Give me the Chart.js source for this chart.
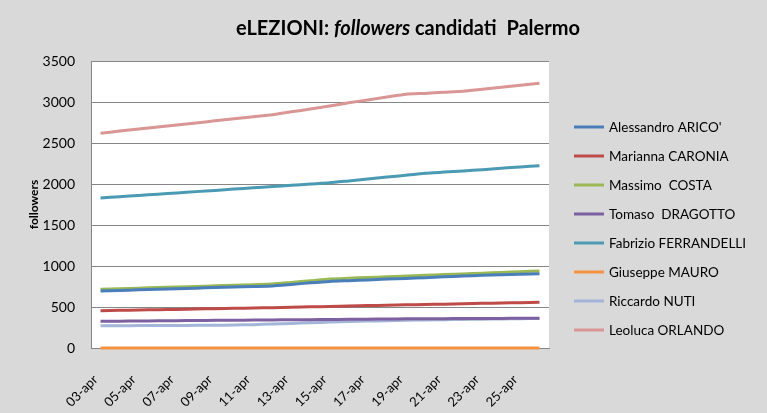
<!DOCTYPE html>
<html>
<head>
<meta charset="utf-8">
<script src="https://cdn.jsdelivr.net/npm/chart.js@4/dist/chart.umd.min.js"></script>
<style>
  html, body { margin: 0; padding: 0; background: #d9d9d9; }
  #wrap { position: relative; width: 767px; height: 413px; }
  #title {
    position: absolute; top: 15px; left: 408px; transform: translateX(-50%);
    font: bold 20px Lato, sans-serif; color: #000; white-space: nowrap;
  }
</style>
</head>
<body>
<div id="wrap">
  <canvas id="myChart" width="767" height="413"></canvas>
  <div id="title">eLEZIONI: <i>followers</i> candidati&nbsp; Palermo</div>
</div>
<script>
"use strict";
const days = [
  "03-apr", "04-apr", "05-apr", "06-apr", "07-apr", "08-apr", "09-apr", "10-apr",
  "11-apr", "12-apr", "13-apr", "14-apr", "15-apr", "16-apr", "17-apr", "18-apr",
  "19-apr", "20-apr", "21-apr", "22-apr", "23-apr", "24-apr", "25-apr", "26-apr",
];
const yTicks = [0, 500, 1000, 1500, 2000, 2500, 3000, 3500];

const arico = [695, 702, 709, 716, 723, 730, 737, 744, 750, 756, 775, 795, 812, 821, 830, 840, 849, 858, 868, 877, 886, 893, 900, 906];
const caronia = [455, 459, 463, 467, 471, 476, 480, 484, 488, 492, 497, 502, 507, 512, 517, 522, 526, 530, 535, 540, 545, 549, 553, 557];
const costa = [716, 723, 730, 737, 744, 751, 758, 765, 772, 780, 800, 820, 842, 851, 860, 868, 877, 886, 895, 903, 912, 921, 930, 939];
const dragotto = [325, 327, 329, 331, 333, 335, 337, 339, 340, 342, 344, 346, 348, 350, 352, 354, 356, 357, 358, 359, 360, 361, 362, 363];
const ferrandelli = [1830, 1845, 1860, 1876, 1891, 1907, 1922, 1938, 1953, 1969, 1984, 2000, 2015, 2038, 2061, 2084, 2107, 2130, 2145, 2160, 2175, 2192, 2208, 2223];
const mauro = [0, 0, 0, 0, 0, 0, 0, 0, 0, 0, 0, 0, 0, 0, 0, 0, 0, 0, 0, 0, 0, 0, 0, 0];
const nuti = [272, 272, 273, 274, 275, 276, 278, 280, 285, 292, 300, 308, 316, 322, 328, 333, 338, 342, 346, 349, 352, 355, 358, 360];
const orlando = [2620, 2645, 2670, 2695, 2720, 2745, 2770, 2795, 2820, 2845, 2880, 2915, 2950, 2990, 3025, 3060, 3095, 3105, 3118, 3130, 3155, 3180, 3205, 3230];

const names = [
  "Alessandro ARICO'", "Marianna CARONIA", "Massimo  COSTA", "Tomaso  DRAGOTTO",
  "Fabrizio FERRANDELLI", "Giuseppe MAURO", "Riccardo NUTI", "Leoluca ORLANDO",
];
const series = [arico, caronia, costa, dragotto, ferrandelli, mauro, nuti, orlando];
const colors = ["#4a7ebb", "#be4b48", "#98b954", "#7d60a0", "#4a9ab3", "#f69240", "#a3b5d8", "#d99694"];

const plotBg = {
  id: "plotBg",
  beforeDraw(chart) {
    const { ctx, chartArea: a } = chart;
    ctx.save();
    ctx.fillStyle = "#ffffff";
    ctx.fillRect(a.left, a.top, a.right - a.left, a.bottom - a.top);
    ctx.restore();
  },
};

// the built-in legend gets squeezed to half the width, so draw the column here
const sideLegend = {
  id: "sideLegend",
  afterDraw(chart) {
    const { ctx, chartArea } = chart;
    const x0 = chartArea.right + 25;
    ctx.save();
    ctx.font = "13.5px Lato";
    ctx.textBaseline = "middle";
    ctx.textAlign = "left";
    chart.data.datasets.forEach((ds, i) => {
      const y = 127 + i * 29;
      ctx.strokeStyle = ds.borderColor;
      ctx.lineWidth = 3;
      ctx.beginPath();
      ctx.moveTo(x0, y);
      ctx.lineTo(x0 + 30, y);
      ctx.stroke();
      ctx.fillStyle = "#000";
      ctx.fillText(ds.label, x0 + 35, y + 1);
    });
    ctx.restore();
  },
};

const createChart = () => {
  const ctx = document.getElementById("myChart").getContext("2d");
  return new Chart(ctx, {
    type: "line",
    data: {
      labels: days,
      datasets: series.map((data, i) => ({
        label: names[i],
        data,
        borderColor: colors[i],
        backgroundColor: colors[i],
        borderWidth: 3,
        pointRadius: 0,
        tension: 0.2,
        clip: 4,
      })),
    },
    options: {
      responsive: false,
      animation: false,
      layout: { padding: { top: 61, left: 25, right: 218, bottom: 0 } },
      plugins: {
        title: { display: false },
        tooltip: { enabled: false },
        legend: { display: false },
      },
      scales: {
        x: {
          offset: true,
          grid: { display: false, drawTicks: false },
          border: { color: "#868686" },
          afterFit: (axis) => {
            axis.height = 65;
          },
          ticks: {
            autoSkip: false,
            minRotation: 45,
            maxRotation: 45,
            padding: 24,
            labelOffset: -5,
            color: "#000",
            font: { family: "Lato", size: 13 },
            callback: function (value, index) {
              return index % 2 === 0 ? this.getLabelForValue(value) : "";
            },
          },
        },
        y: {
          min: 0,
          max: 3500,
          afterBuildTicks: (axis) => {
            axis.ticks = yTicks.map((v) => ({ value: v }));
          },
          afterFit: (axis) => {
            axis.width = 66;
          },
          grid: { color: "#868686", drawTicks: false },
          border: { color: "#868686" },
          ticks: {
            padding: 16,
            color: "#000",
            font: { family: "Lato", size: 14 },
            callback: (v) => String(v),
          },
          title: {
            display: true,
            text: "followers",
            color: "#000",
            font: { family: "Lato", size: 12, weight: "bold" },
            padding: 2,
          },
        },
      },
    },
    plugins: [plotBg, sideLegend],
  });
};

document.fonts.load("13px Lato").then(createChart, createChart);
</script>
</body>
</html>
